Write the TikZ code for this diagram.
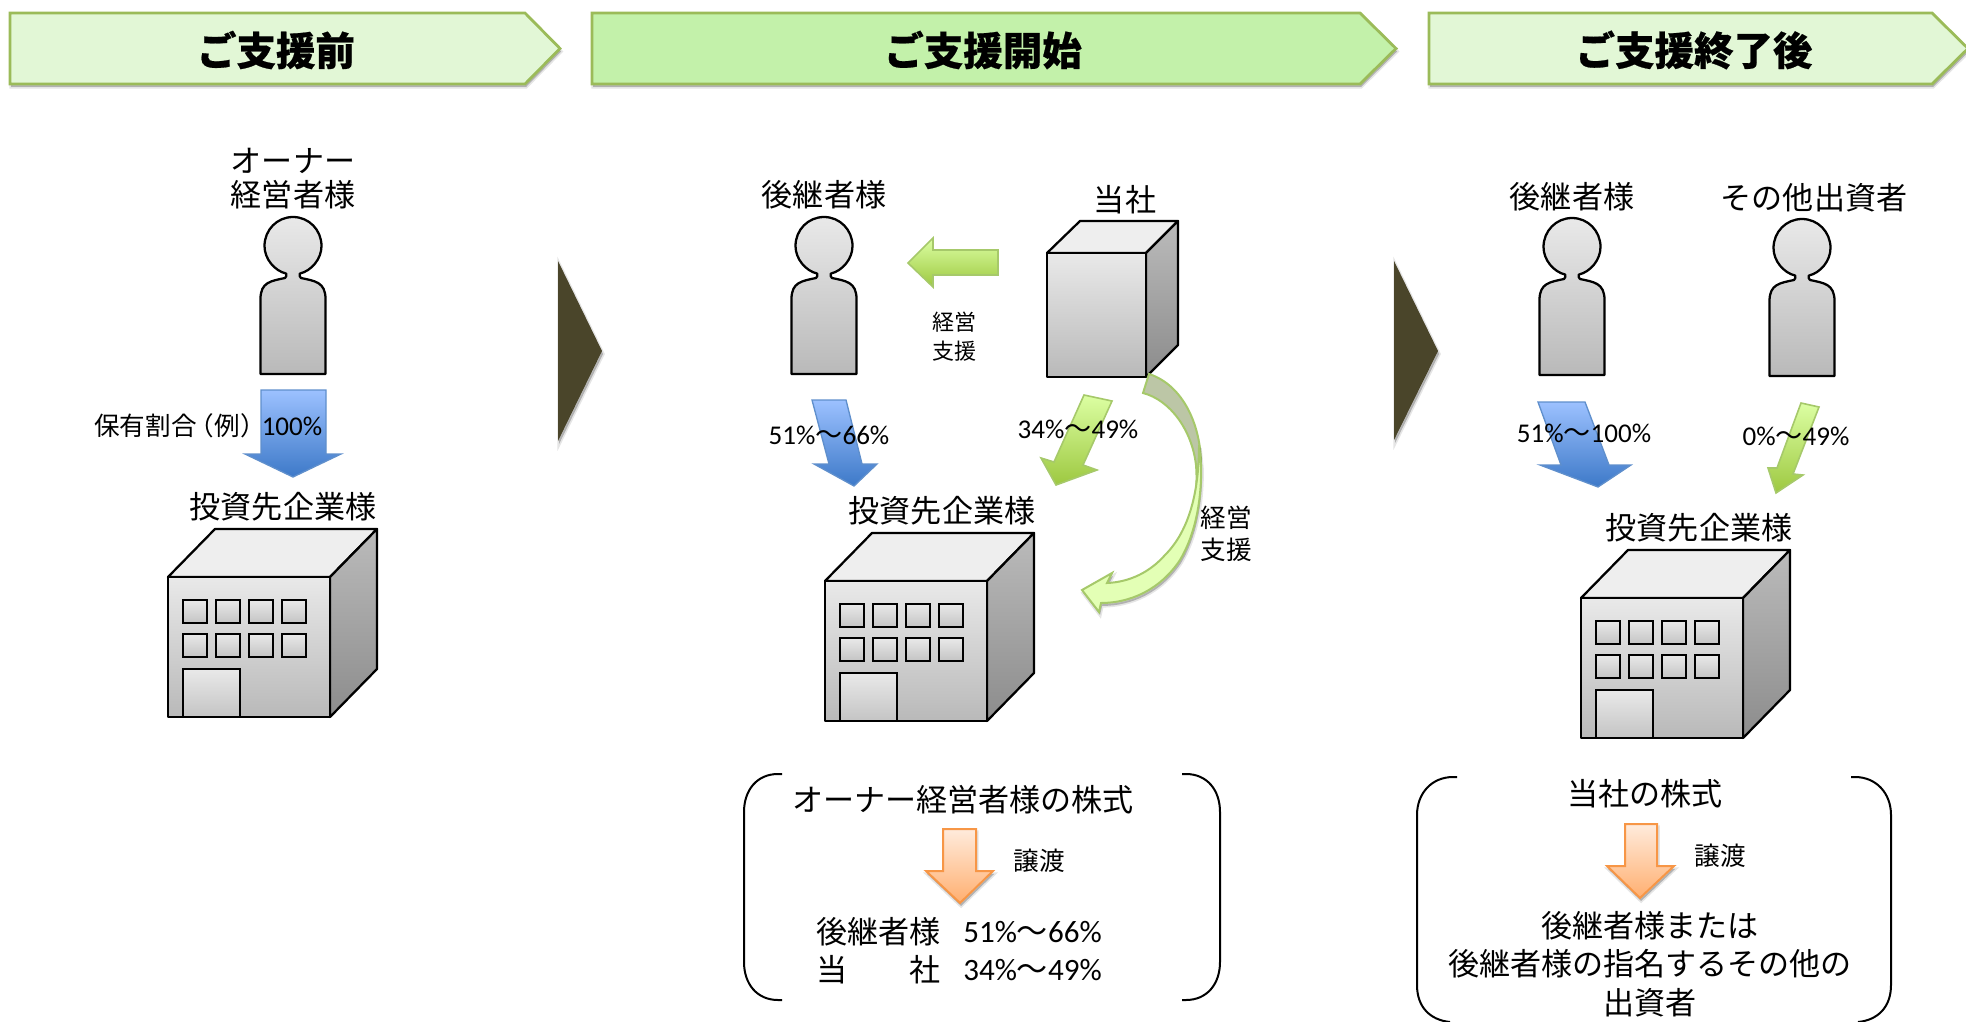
\documentclass[tikz,border=0pt]{standalone}
\usepackage{fontspec}
\setmainfont{Noto Sans CJK JP}
\newfontfamily\jp{Noto Sans CJK JP}[BoldFeatures={FakeBold=0.5}]
\newfontfamily\lat{Carlito}
\usetikzlibrary{shadows}
\definecolor{hdlight}{HTML}{E2F7D6}
\definecolor{hdmid}{HTML}{C3F1AA}
\definecolor{hdline}{HTML}{9BBB59}
\definecolor{darkolive}{HTML}{4A452A}
\newcommand{\px}[2]{\fontsize{#1}{#2}\selectfont}
\newcommand{\rng}[2]{{\lat #1}～{\lat #2}}
\tikzset{
  softshadow/.style={
    preaction={fill=black,fill opacity=.10,draw=black,draw opacity=.10,line width=2.5pt,transform canvas={xshift=.8pt,yshift=-2.2pt}},
    preaction={fill=black,fill opacity=.14,draw=none,transform canvas={xshift=.8pt,yshift=-2.2pt}}},
  headerbox/.style={draw=hdline,line width=2.1pt,miter limit=10,softshadow},
  headertext/.style={inner sep=0,font=\jp\bfseries\px{29.6}{34}},
  lbl/.style={inner sep=0,align=center,font=\jp\px{23.3}{25.5}},
  smalllbl/.style={inner sep=0,align=center,font=\jp\px{16.5}{21.8}},
  midlbl/.style={inner sep=0,align=center,font=\jp\px{19.2}{24.2}},
  pctlbl/.style={inner sep=0,font=\jp\px{20.3}{24}},
  grayline/.style={draw=black,line width=1.7pt,line join=round},
  bluearrow/.style={top color=bluetop,bottom color=bluebot,draw=blueedge,line width=1pt},
  greenarrow/.style={top color=greentop,bottom color=greenbot,draw=greenedge,line width=1.2pt},
  orangearrow/.style={top color=orangetop,bottom color=orangebot,draw=orangeedge,line width=1.5pt,softshadow},
  bracket/.style={draw=black,line width=1.5pt},
  person/.pic={
    \path[grayline,top color=personTop,bottom color=personBot]
      (-6.8,27.6) .. controls (-18.4,24.8) and (-28.5,13) .. (-28.5,0)
      .. controls (-28.5,-16) and (-16,-29) .. (0,-29)
      .. controls (16,-29) and (28.5,-16) .. (28.5,0)
      .. controls (28.5,13) and (18.4,24.8) .. (6.8,27.6)
      .. controls (6.4,29) and (6.4,31) .. (8,32)
      .. controls (22,35) and (32.5,36) .. (32.5,53)
      -- (32.5,128) -- (-32.5,128) -- (-32.5,53)
      .. controls (-32.5,36) and (-22,35) .. (-8,32)
      .. controls (-6.4,31) and (-6.4,29) .. (-6.8,27.6) -- cycle;
  },
  window/.style={draw=black,line width=1.6pt,top color=personTop,bottom color=winBot},
  building/.pic={
    \path[grayline,fill=topFace] (0,0) -- (47,-48) -- (209,-48) -- (162,0) -- cycle;
    \path[grayline,top color=sideTop,bottom color=sideBot] (162,0) -- (209,-48) -- (209,92) -- (162,140) -- cycle;
    \path[grayline,top color=personTop,bottom color=personBot] (0,0) rectangle (162,140);
    \foreach \wx in {15,48,81,114}{\foreach \wy in {23,57}{
      \path[window] (\wx,\wy) rectangle ++(24,23);}}
    \path[window,bottom color=winBot] (15,92) rectangle (72,140);
  },
}
\definecolor{bluetop}{HTML}{9CC1FF}
\definecolor{bluebot}{HTML}{3D79C8}
\definecolor{blueedge}{HTML}{5F8FCC}
\definecolor{greentop}{HTML}{DCFFA3}
\definecolor{greenbot}{HTML}{9DC840}
\definecolor{greenedge}{HTML}{A6C96A}
\definecolor{orangetop}{HTML}{FFEBDC}
\definecolor{orangebot}{HTML}{FFAF70}
\definecolor{orangeedge}{HTML}{F79646}
\definecolor{personTop}{HTML}{E9E9E9}
\definecolor{personBot}{HTML}{B9B9B9}
\definecolor{winBot}{HTML}{C4C4C4}
\definecolor{topFace}{HTML}{EEEEEE}
\definecolor{sideTop}{HTML}{BBBBBB}
\definecolor{sideBot}{HTML}{8C8C8C}
\begin{document}
\begin{tikzpicture}[x=0.75pt,y=-0.75pt]
\useasboundingbox (0,0) rectangle (1966,1021);
\clip (0,0) rectangle (1966,1021);
% headers
\path[headerbox,fill=hdlight] (10,13) -- (525,13) -- (560,48.5) -- (525,84) -- (10,84) -- cycle;
\path[headerbox,fill=hdmid] (592,13) -- (1360,13) -- (1396,48.5) -- (1360,84) -- (592,84) -- cycle;
\path[headerbox,fill=hdlight] (1429,13) -- (1932,13) -- (1968,48.5) -- (1932,84) -- (1429,84) -- cycle;
\node[headertext] (h1) at (276,50) {ご支援前};
\node[headertext] (h2) at (983,50) {ご支援開始};
\node[headertext] (h3) at (1694,50) {ご支援終了後};
% separators
\fill[darkolive,softshadow] (558,261) -- (602,351) -- (558,441) -- cycle;
\fill[darkolive,softshadow] (1394,261) -- (1438,351) -- (1394,440) -- cycle;
% persons
\pic (p1) at (293,246) {person};
\pic (p2) at (824,246) {person};
\pic (p3) at (1572,247) {person};
\pic (p4) at (1802,248) {person};
% buildings
\pic (b1) at (168,577) {building};
\pic (b2) at (825,581) {building};
\pic (b3) at (1581,598) {building};
% cube
\path[grayline,fill=topFace] (1047,253) -- (1080,221) -- (1178,221) -- (1146,253) -- cycle;
\path[grayline,top color=sideTop,bottom color=sideBot] (1146,253) -- (1178,221) -- (1178,345) -- (1146,377) -- cycle;
\path[grayline,top color=personTop,bottom color=personBot] (1047,253) rectangle (1146,377);
% blue arrows
\path[bluearrow] (261,390) -- (326,390) -- (326,454) -- (341,454) -- (293,477) -- (245,454) -- (261,454) -- cycle;
\path[bluearrow] (812,400) -- (846,400) -- (862,464) -- (877,464) -- (854,486) -- (814,464) -- (829,464) -- cycle;
\path[bluearrow] (1538,402) -- (1585,402) -- (1609,465) -- (1631,465) -- (1598,487) -- (1540,465) -- (1561,465) -- cycle;
% green arrows
\path[greenarrow] (998,250) -- (933,250) -- (933,238) -- (908,263) -- (933,287) -- (933,275) -- (998,275) -- cycle;
\path[greenarrow] (1084,395) -- (1112,401) -- (1083,465) -- (1097,470) -- (1056,485) -- (1041,458) -- (1054,462) -- cycle;
\path[greenarrow] (1801,403) -- (1819,407) -- (1793,474) -- (1803,475) -- (1776,493) -- (1768,468) -- (1777,468) -- cycle;
% curved support arrow
\path[draw=greenedge,line width=1.5pt,fill=hdline!55!gray!60!white]
  (1149,374) .. controls (1183,385) and (1201,425) .. (1201,465)
  .. controls (1201,490) and (1197,510) .. (1188,530)
  .. controls (1194,510) and (1198,490) .. (1196,465)
  .. controls (1192,430) and (1170,400) .. (1143,393) -- cycle;
\path[draw=greenedge,line width=1.5pt,fill=greentop!80!white,softshadow]
  (1199,445) .. controls (1199,490) and (1190,530) .. (1165,555)
  .. controls (1150,572) and (1130,582) .. (1107,583)
  -- (1112,573) -- (1082,590) -- (1099,612) -- (1101,603)
  .. controls (1130,603) and (1160,590) .. (1180,560)
  .. controls (1195,535) and (1202,500) .. (1201,465) -- cycle;
% orange arrows
\path[orangearrow] (943,829) -- (976,829) -- (976,871) -- (993,871) -- (960,903) -- (926,871) -- (943,871) -- cycle;
\path[orangearrow] (1625,824) -- (1657,824) -- (1657,866) -- (1674,866) -- (1640,898) -- (1607,866) -- (1625,866) -- cycle;
% brackets
\draw[bracket] (782,774) -- (778,774) .. controls (757,774) and (744,790) .. (744,812) -- (744,962) .. controls (744,984) and (757,1000) .. (778,1000) -- (782,1000);
\draw[bracket] (1182,774) -- (1186,774) .. controls (1207,774) and (1220,790) .. (1220,812) -- (1220,962) .. controls (1220,984) and (1207,1000) .. (1186,1000) -- (1182,1000);
\draw[bracket] (1457,777) -- (1453,777) .. controls (1432,777) and (1417,793) .. (1417,815) -- (1417,985) .. controls (1417,1007) and (1430,1020) .. (1450,1022);
\draw[bracket] (1851,777) -- (1855,777) .. controls (1876,777) and (1891,793) .. (1891,815) -- (1891,985) .. controls (1891,1007) and (1878,1020) .. (1858,1022);
% labels
\node[lbl,font=\jp\px{23.3}{25.5}] (l1) at (293,179) {オーナー\\経営者様};
\node[midlbl,anchor=west] (l2) at (94,426) {保有割合\kern-.3em（例）};
\node[pctlbl] (l3) at (292,426) {\lat 100\%};
\node[lbl] (l4) at (283,507) {投資先企業様};
\node[lbl] (l5) at (824,195) {後継者様};
\node[lbl] (l6) at (1125,200) {当社};
\node[smalllbl] (l7) at (954,337) {経営\\支援};
\node[pctlbl] (l8) at (829,435) {\rng{51\%}{66\%}};
\node[pctlbl] (l9) at (1078,429) {\rng{34\%}{49\%}};
\node[lbl] (l10) at (942,511) {投資先企業様};
\node[midlbl] (l11) at (1226,534) {経営\\支援};
\node[lbl] (l12) at (963,800) {オーナー経営者様の株式};
\node[midlbl] (l13) at (1039,861) {譲渡};
\node[lbl,anchor=west] (l14) at (816,932) {後継者様};
\node[lbl,anchor=west] (l15) at (816,970) {\hbox to 4em{当\hfil 社}};
\node[lbl,anchor=west] (l16) at (963,932) {\rng{51\%}{66\%}};
\node[lbl,anchor=west] (l17) at (963,970) {\rng{34\%}{49\%}};
\node[lbl] (l18) at (1572,197) {後継者様};
\node[lbl] (l19) at (1814,198) {その他出資者};
\node[pctlbl] (l20) at (1584,433) {\rng{51\%}{100\%}};
\node[pctlbl] (l21) at (1796,436) {\rng{0\%}{49\%}};
\node[lbl] (l22) at (1699,528) {投資先企業様};
\node[lbl] (l23) at (1645,794) {当社の株式};
\node[midlbl] (l24) at (1720,856) {譲渡};
\node[lbl,font=\jp\px{23.3}{29}] (l25) at (1650,964) {後継者様または\\後継者様の指名するその他の\\出資者};
\end{tikzpicture}
\end{document}
